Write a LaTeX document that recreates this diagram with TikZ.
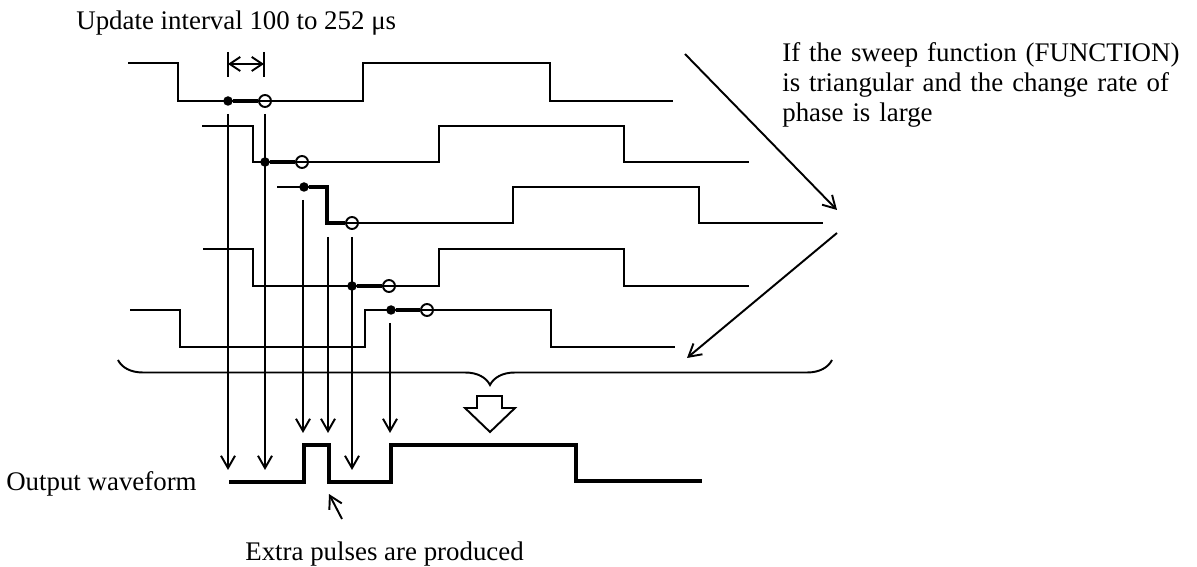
\documentclass[tikz,border=0pt]{standalone}
\usepackage{fontspec}
\setmainfont{Liberation Serif}
\usetikzlibrary{arrows.meta,decorations.pathreplacing}
\tikzset{
  wave/.style={line width=1.1pt},
  thk/.style={line width=2.3pt},
  dot/.style={circle,fill=black,inner sep=0pt,minimum size=0.19cm},
  ring/.style={circle,draw,line width=1.1pt,inner sep=0pt,minimum size=0.24cm},
  arr/.style={-{Straight Barb[length=7pt,width=8pt]},line width=1.1pt},
  ivl/.style={{Straight Barb[length=6pt,width=8pt]}-{Straight Barb[length=6pt,width=8pt]},line width=1.1pt},
  lbl/.style={font=\fontsize{15.3}{17}\selectfont,inner sep=0pt}
}
\begin{document}
\begin{tikzpicture}[x=0.02cm,y=-0.02cm]
  \useasboundingbox (0,0) rectangle (1197,567);
  % Labels
  \node[lbl,anchor=base west] (upd) at (76,30) {Update interval 100 to 252 μs};
  \node[lbl,anchor=north west,text width=8.2cm,align=left] (cond) at (782,42)
    {\makebox[8.2cm][s]{If the sweep function (FUNCTION)}\\
     \makebox[8.2cm][s]{is triangular and the change rate of}\\
     phase is large};
  \node[lbl,anchor=base east] (outl) at (197,490) {Output waveform};
  \node[lbl,anchor=base west] (xtra) at (245,560) {Extra pulses are produced};

  % Update interval marker
  \coordinate (ia) at (228,64);
  \coordinate (ib) at (264,64);
  \draw[wave] (228,52) -- (228,77);
  \draw[wave] (264,52) -- (264,77);
  \draw[ivl] (ia) -- (ib);

  % Phase shifted waves
  \foreach \hi/\lo/\xs/\xa/\xb/\xc/\xe in {63/101/128/178/363/550/673,
      126/162/202/253/439/624/749, 187/223/277/327/513/699/823,
      249/286/203/253/439/624/749, 310/347/130/180/365/551/675}
    \draw[wave] (\xs,\hi) -- (\xa,\hi) -- (\xa,\lo) -- (\xb,\lo) -- (\xb,\hi)
      -- (\xc,\hi) -- (\xc,\lo) -- (\xe,\lo);

  % Update points
  \foreach \i/\xd/\yd/\xr/\yr in {1/228/101/265/101, 2/265/162/302/162,
      3/304/187/352/223, 4/352/286/389/286, 5/391/310/427/310} {
    \node[dot] (d\i) at (\xd,\yd) {};
    \node[ring] (r\i) at (\xr,\yr) {};
  }
  \coordinate (k3) at (327,223);
  \foreach \i in {1,2,4,5}
    \draw[thk] (d\i) -- (r\i);
  \draw[thk] (d3) -| (k3) -- (r3);

  % Drop lines to output
  \foreach \i/\x/\ys/\ye in {1/228/114/470, 2/265/114/470, 3/303/200/433,
      4/328/237/433, 5/352/237/470, 6/390/323/433} {
    \coordinate (top\i) at (\x,\ys);
    \coordinate (bot\i) at (\x,\ye);
    \draw[arr] (top\i) -- (bot\i);
  }

  % Output waveform
  \draw[thk] (229,482) -- (304,482) -- (304,445) -- (329,445) -- (329,482)
    -- (391,482) -- (391,445) -- (576,445) -- (576,481) -- (702,481);

  % Brace and block arrow
  \draw[wave,decorate,decoration={brace,mirror,amplitude=0.5cm,aspect=0.521}] (118,360) -- (832,360);
  \draw[wave] (477,396) -- (502,396) -- (502,408) -- (515,408) -- (490,432)
    -- (465,408) -- (477,408) -- cycle;

  % Condition arrows
  \coordinate (u1) at (685,54);
  \coordinate (u2) at (837,210);
  \coordinate (v1) at (837,233);
  \coordinate (v2) at (687,358);
  \draw[arr] (u1) -- (u2);
  \draw[arr] (v1) -- (v2);

  % Extra pulse pointer
  \coordinate (p1) at (342,519);
  \coordinate (p2) at (329,494);
  \draw[arr] (p1) -- (p2);
\end{tikzpicture}
\end{document}
